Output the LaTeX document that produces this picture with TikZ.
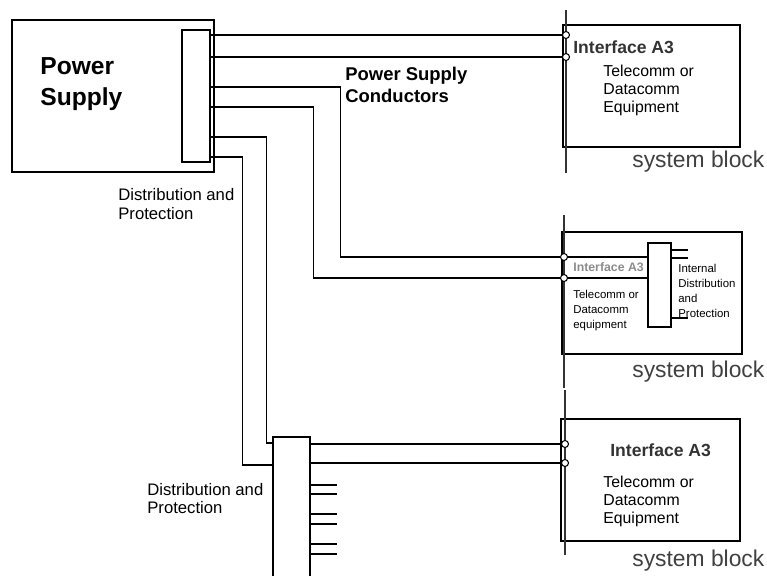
\documentclass[tikz,border=0pt]{standalone}
\usepackage{fontspec}
\setmainfont{Liberation Sans}
\usetikzlibrary{fit, positioning}

\begin{document}
\begin{tikzpicture}[
        x=0.02cm, y=-0.02cm,
        box/.style={draw, line width=1.1pt, inner sep=0pt},
        bar/.style={draw, line width=0.9pt, inner sep=0pt},
        wire/.style={draw, line width=0.6pt},
        bus/.style={draw, line width=0.6pt, black!80},
        port/.style={circle, draw, line width=0.6pt, fill=white, inner sep=0pt, minimum size=0.14cm},
        label/.style={anchor=north west, inner sep=0pt, align=left},
        sysname/.style={anchor=base west, inner sep=0pt, text=black!75, font=\fontsize{13}{15}\selectfont}
    ]
    \useasboundingbox (0,0) rectangle (767,575);
    \clip (0,0) rectangle (767,575);

    % Power supply
    \node[box, fit={(12,20) (214,172)}] (psu) {};
    \node[bar, fit={(182,30) (210,162)}] (pdist) {};
    \node[label, font=\fontsize{14}{18}\selectfont\bfseries] (psutext) at (40,57) {Power\\Supply};
    \node[label, font=\fontsize{9.5}{10.8}\selectfont] (pdisttext) at (118,188) {Distribution and\\Protection};
    \node[label, font=\fontsize{10.5}{12.5}\selectfont\bfseries] (conduct) at (345,67) {Power Supply\\Conductors};

    % outlets of the distribution bar
    \foreach \n/\y in {1/35, 2/57, 3/87, 4/107, 5/137, 6/157}
        \coordinate (a\n) at (pdist.east |- 0,\y);

    % ================= system block 1 =================
    \node[box, fit={(563,25) (740,147)}] (sys1) {};
    \draw[bus] (566,10) -- (566,173);
    \node[port] (p11) at (566,35) {};
    \node[port] (p12) at (566,57) {};
    \node[anchor=base west, inner sep=0pt, font=\fontsize{10}{12}\selectfont\bfseries, text=black!80] (if1) at (573,53) {Interface A3};
    \node[label, font=\fontsize{9}{10.2}\selectfont] (eq1) at (603,65) {Telecomm or\\Datacomm\\Equipment};
    \node[sysname] (sb1) at (632,167) {system block};

    % ================= system block 2 =================
    \node[box, fit={(562,232) (742,354)}] (sys2) {};
    \draw[bus] (564,215) -- (564,388);
    \node[bar, fit={(648,243) (671,327)}] (idist) {};
    \node[port] (p21) at (564,257) {};
    \node[port] (p22) at (564,278) {};
    \node[anchor=base west, inner sep=0pt, font=\fontsize{7}{8}\selectfont\bfseries, text=black!45] (if2) at (573,271) {Interface A3};
    \node[label, font=\fontsize{6.5}{8.5}\selectfont] (eq2) at (573,290) {Telecomm or\\Datacomm\\equipment};
    \node[label, font=\fontsize{6.5}{8.5}\selectfont] (idisttext) at (678,264) {Internal\\Distribution\\and\\Protection};
    \node[sysname] (sb2) at (632,377) {system block};
    \foreach \y in {250, 258, 318}
        \draw[wire] (idist.east |- 0,\y) -- ++(16,0);
    \draw[wire] (p21) -- (idist.west |- p21);
    \draw[wire] (p22) -- (idist.west |- p22);

    % ================= system block 3 =================
    \node[box, fit={(561,419) (740,541)}] (sys3) {};
    \draw[bus] (565,390) -- (565,555);
    \node[port] (p31) at (565,444) {};
    \node[port] (p32) at (565,463) {};
    \node[anchor=base west, inner sep=0pt, font=\fontsize{10}{12}\selectfont\bfseries, text=black!80] (if3) at (610,456) {Interface A3};
    \node[label, font=\fontsize{9}{10.2}\selectfont] (eq3) at (603,476) {Telecomm or\\Datacomm\\Equipment};
    \node[sysname] (sb3) at (632,566) {system block};

    % ================= remote distribution =================
    \node[bar, fit={(273,437) (310,590)}] (bdist) {};
    \node[label, font=\fontsize{9.5}{10.2}\selectfont] (bdisttext) at (147,483) {Distribution and\\Protection};
    \coordinate (b1) at (bdist.west |- 0,443);
    \coordinate (b2) at (bdist.west |- 0,465);
    \foreach \y in {485, 494, 514, 524, 544, 554}
        \draw[wire] (bdist.east |- 0,\y) -- ++(26,0);

    % Conductors
    \draw[wire] (a1) -- (p11);
    \draw[wire] (a2) -- (p12);
    \draw[wire] (a3) -- ++(130,0) |- (p21);
    \draw[wire] (a4) -- ++(103,0) |- (p22);
    \draw[wire] (a5) -- ++(56,0) |- (b1);
    \draw[wire] (a6) -- ++(32,0) |- (b2);
    \draw[wire, line width=1pt] (bdist.east |- p31) -- (p31);
    \draw[wire, line width=1pt] (bdist.east |- p32) -- (p32);

\end{tikzpicture}
\end{document}
